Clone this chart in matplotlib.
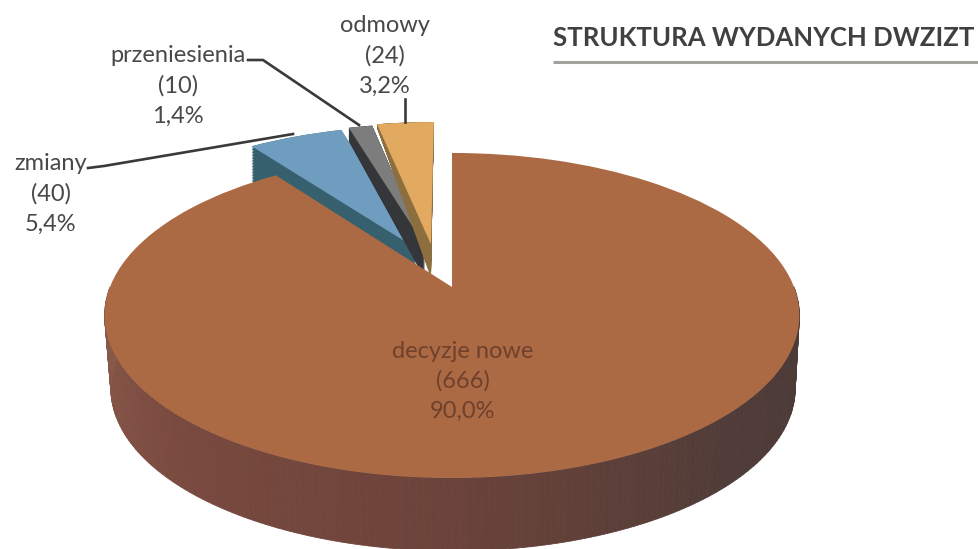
## 3d looking pie chart of issued permits

## import libraries
import numpy as np
import matplotlib
matplotlib.use('Agg')
import matplotlib.pyplot as plt
from matplotlib.collections import PolyCollection
from matplotlib.colors import to_rgb
from matplotlib.transforms import Affine2D, Transform

## data
categories = ['decyzje nowe', 'zmiany', 'przeniesienia', 'odmowy']
counts = [666, 40, 10, 24]
percents = ['90,0%', '5,4%', '1,4%', '3,2%']
title = 'STRUKTURA WYDANYCH DWZIZT'

## colours
top_colors = ['#ac6a44', '#6f9dbf', '#7d7d7d', '#e2a960']
wall_colors = ['#6e4438', '#37606f', '#35363a', '#8d6f3f']
main_wall_stops = ['#4a3a37', '#503c38', '#6b433a', '#7a4a3f', '#8a5a4b']
text_color = '#484848'

## layout of the pie in pixels
X0, Y0 = 454.0, 287.0
BX, BY, K = 342.0, 157.5, 0.175
DEPTH = 73
BOTTOM_SCALE = 0.985
CENTER_SHIFT = 0.15
SMALL_SHIFT = 0.15
## small nudge of each slice, in pixels
slice_dx = [-2, -1, -2, -3]
slice_dy = [0, 3, 2, 1]
## wall of each small slice: plain shift, vertical stretch, row the stretch starts from
wall_shift = [0, 60, 0, 0]
wall_stretch = [0, 0, 0.17, 0.246]
wall_row = [0, 0, 47, 107]
plt.rcParams['font.family'] = ['Lato', 'DejaVu Sans']


class Tilt(Transform):
    ## maps the flat unit circle to the tilted disc
    input_dims = 2
    output_dims = 2
    has_inverse = False

    def transform_non_affine(self, values):
        values = np.asarray(values, dtype=float)
        w = 1 + K * values[:, 1]
        return np.column_stack((X0 + BX * values[:, 0] / w, Y0 - BY * values[:, 1] / w))


tilt = Tilt()
fig = plt.figure(figsize=(9.79, 5.49), dpi=100, facecolor='white')
ax = fig.add_axes([0, 0, 1, 1])

## every slice is moved out from a common centre
first_mid = np.deg2rad(counts[0] / sum(counts) * 180)
center = (-np.sin(first_mid) * CENTER_SHIFT, -np.cos(first_mid) * CENTER_SHIFT)
explode = [CENTER_SHIFT] + [SMALL_SHIFT] * (len(counts) - 1)


def draw_pie(colors, zorders, step=0.0):
    wedges, _ = ax.pie(counts, explode=explode, startangle=90, counterclock=False,
                       center=center, colors=colors, frame=True,
                       wedgeprops={'linewidth': 0})
    for i, w in enumerate(wedges):
        move = (Affine2D().translate(0, -wall_row[i]).scale(1, 1 + wall_stretch[i] * step)
                .translate(slice_dx[i], wall_row[i] + slice_dy[i] + wall_shift[i] * step))
        w.set_transform(tilt + move + ax.transData)
        w.set_zorder(zorders[i])
    return wedges


## walls of the small slices, the big one is hidden below
small_walls = ['none'] + wall_colors[1:]
for step in np.linspace(1, 0, 40):
    draw_pie(small_walls, [0, 2, 4, 6], step)
draw_pie(top_colors, [20, 3, 5, 7])

## front wall of the big slice with shading from right to left
angles = np.deg2rad(np.linspace(0, -180, 181))
uv = np.column_stack((np.cos(angles), np.sin(angles)))
rim = tilt.transform_non_affine(uv)
rim[:, 0] = rim[:, 0] + slice_dx[0]
low = rim.copy()
low[:, 0] = X0 + 1 + (low[:, 0] - X0) * BOTTOM_SCALE
low[:, 1] = low[:, 1] + DEPTH
polys = []
shades = []
stop_rgb = np.array([to_rgb(c) for c in main_wall_stops])
stop_pos = np.linspace(0, 1, len(stop_rgb))
for i in range(len(angles) - 1):
    polys.append([rim[i], rim[i + 1], low[i + 1], low[i]])
    t = i / (len(angles) - 2)
    shades.append([np.interp(t, stop_pos, stop_rgb[:, c]) for c in range(3)])
ax.add_collection(PolyCollection(polys, facecolors=shades, edgecolors=shades, linewidths=0.6, zorder=10))

## pie() changes these, so set them at the end
ax.set_aspect('auto')
ax.set_xlim(0, 979)
ax.set_ylim(549, 0)
ax.axis('off')

## leader lines
ax.plot([88, 104, 293], [168, 166, 134], color='#3a3a3a', lw=1.9, zorder=30)
ax.plot([248, 263, 359], [60, 60, 125], color='#3a3a3a', lw=1.9, zorder=30)
ax.plot([405, 405], [99, 122], color='#3a3a3a', lw=1.9, zorder=30)

## labels
label_pos = [(463, 351, '#6f412c'), (51, 164, text_color), (178, 56, text_color), (385, 26, text_color)]
for name, n, pct, (x, y, col) in zip(categories, counts, percents, label_pos):
    for k, txt in enumerate([name, '(%d)' % n, pct]):
        ax.text(x, y + k * 30, txt, ha='center', va='center', fontsize=17, color=col, zorder=40)

## title with the line under it
ax.text(553, 38, title, ha='left', va='center', fontsize=18.5, fontweight='bold', color='#404040')
ax.plot([553, 979], [62, 62], color='#a3a39d', lw=2.2, solid_capstyle='butt')

fig.savefig('out.png', dpi=100)
